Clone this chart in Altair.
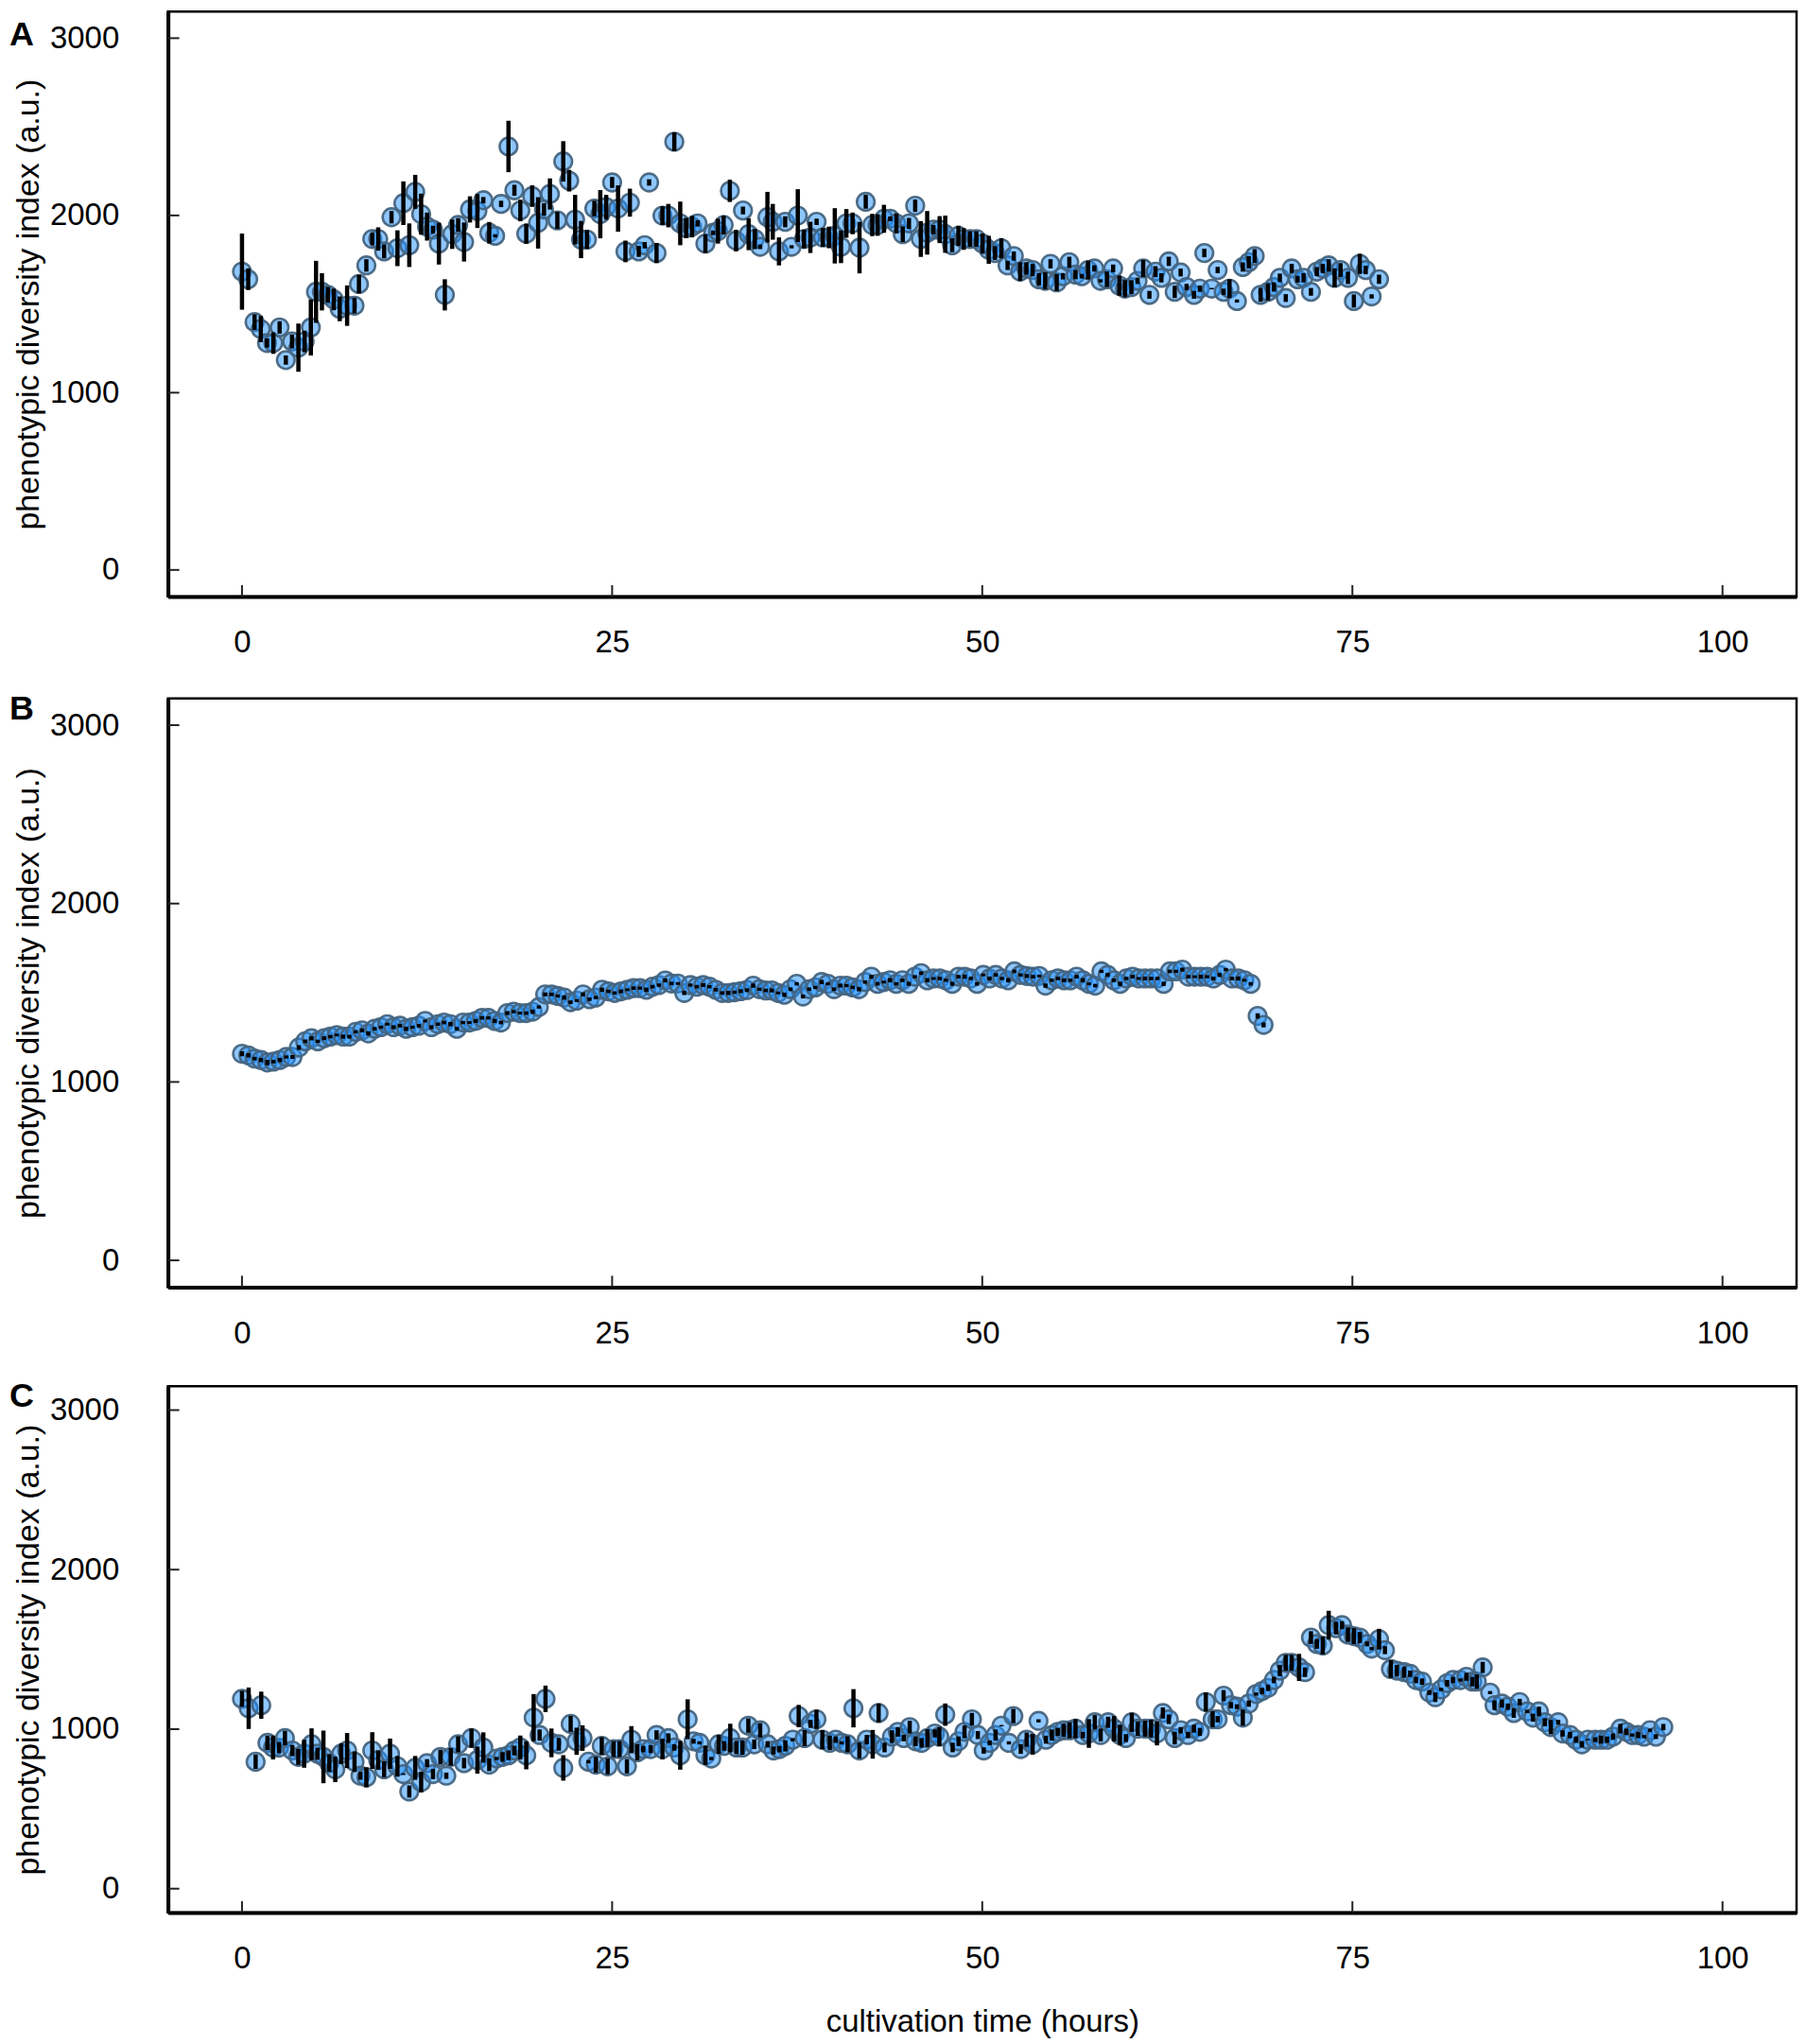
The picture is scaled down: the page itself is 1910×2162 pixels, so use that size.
import altair as alt
import pandas as pd

# ---------------- Panel A ----------------
A_TIME = [0.0, 0.42, 0.85, 1.27, 1.69, 2.12, 2.54, 2.96, 3.38, 3.81, 4.23, 4.65, 5.0, 5.4, 5.8,
          6.2, 6.6, 7.1, 7.6, 7.9, 8.4, 8.8, 9.2, 9.6, 10.1, 10.5, 10.9, 11.3, 11.7, 12.1,
          12.5, 12.9, 13.3, 13.7, 14.2, 14.6, 15.0, 15.4, 15.9, 16.3, 16.7, 17.1, 17.5, 18.0, 18.4,
          18.8, 19.2, 19.6, 20.0, 20.4, 20.8, 21.3, 21.7, 22.1, 22.5, 22.9, 23.3, 23.8, 24.2, 24.6,
          25.0, 25.4, 25.9, 26.2, 26.8, 27.2, 27.5, 28.0, 28.4, 28.8, 29.2, 29.6, 30.0,
          30.4,
          30.77, 31.30, 31.83, 32.15, 32.53, 32.95, 33.37, 33.84, 34.22, 34.64, 35.0, 35.49, 35.85,
          36.27, 36.69, 37.12, 37.54, 37.96, 38.39, 38.81, 39.23, 39.65, 40.04, 40.46, 40.82, 41.24,
          41.71, 42.13, 42.57, 42.93, 43.36, 43.78, 44.20, 44.63, 45.05, 45.47, 45.85, 46.28, 46.70,
          47.12, 47.50, 47.97, 48.39, 48.75, 49.17, 49.60, 50.02, 50.44, 50.86, 51.29, 51.71, 52.13,
          52.56, 52.98, 53.40, 53.83, 54.25, 54.61, 55.03, 55.45, 55.88, 56.30, 56.72, 57.15, 57.57,
          57.99, 58.42, 58.84, 59.26, 59.64, 60.07, 60.49, 60.87, 61.29,
          61.7, 62.1, 62.6, 63.0, 63.4, 63.8, 64.3, 64.7, 65.0, 65.5, 65.9, 66.3, 66.7, 67.2, 67.6,
          68.0, 68.4, 68.8, 69.3, 69.7, 70.1, 70.5, 70.9, 71.3, 71.7, 72.2, 72.6, 73.0, 73.4, 73.8,
          74.2, 74.7, 75.1, 75.5, 75.9, 76.3, 76.8]
A_VALUE = [1683, 1640, 1398, 1359, 1280, 1280, 1368, 1184, 1289, 1254, 1289, 1368, 1569, 1569, 1552,
           1526, 1473, 1491, 1491, 1613, 1718, 1867, 1867, 1797, 1990, 1815, 2069, 1832, 2133, 2007,
           1937, 1920, 1841, 1552, 1894, 1946, 1850, 2034, 2025, 2086, 1902, 1885, 2065, 2389, 2142,
           2028, 1897, 2109, 1958, 2034, 2121, 1972, 2305, 2196, 1976, 1864, 1864, 2039, 2007, 2046,
           2186, 2039, 1797, 2072, 1797, 1832, 2186, 1788, 1999, 1999, 2416, 1955, 1929,
           1937,
           1955, 1841, 1902, 1911, 1946, 2139, 1858, 2028, 1894, 1867, 1823, 1990, 1964, 1797, 1964,
           1823, 1999, 1867, 1876, 1964, 1876, 1876, 1885, 1823, 1955, 1955, 1818, 2077, 1946, 1946,
           1981, 1981, 1955, 1894, 1955, 2055, 1867, 1902, 1920, 1920, 1894, 1832, 1885, 1867, 1867,
           1867, 1841, 1806, 1788, 1815, 1718, 1771, 1683, 1701, 1692, 1640, 1631, 1727, 1622, 1657,
           1736, 1666, 1657, 1692, 1701, 1631, 1640, 1701, 1604, 1587, 1596, 1631, 1701, 1552,
           1683, 1648, 1741, 1569, 1678, 1596, 1552, 1587, 1788, 1587, 1692, 1569, 1587, 1517, 1709,
           1736, 1771, 1552, 1569, 1596, 1648, 1534, 1701, 1640, 1648, 1569, 1683, 1701, 1718, 1648,
           1692, 1648, 1517, 1727, 1692, 1543, 1640]
A_ERR = [215, 61, 44, 74, 26, 61, 35, 26, 39, 136, 61, 158, 175, 105, 44, 61, 70, 114, 44, 53,
         35, 35, 66, 39, 35, 101, 123, 123, 96, 116, 79, 22, 118, 88, 83, 39, 110, 74, 96, 18,
         61, 9, 18, 145, 31, 61, 57, 61, 145, 35, 88, 48, 114, 61, 140, 105, 53, 44, 136, 70,
         31, 131, 61, 79, 31, 18, 18, 57, 53, 66, 53, 123, 57,
         61,
         18, 53, 13, 70, 53, 63, 61, 22, 90, 57, 13, 143, 101, 79, 31, 9, 149, 53, 88, 18,
         53, 61, 156, 92, 81, 61, 145, 39, 63, 61, 79, 13, 57, 44, 31, 35, 101, 123, 26, 76,
         105, 39, 57, 61, 44, 44, 57, 79, 39, 57, 26, 26, 53, 35, 35, 35, 48, 26, 48, 18,
         31, 26, 13, 53, 18, 9, 44, 22, 57, 48, 39, 18, 48, 22,
         31, 26, 26, 35, 22, 18, 22, 18, 24, 4, 18, 18, 53, 9, 26, 35, 39, 39, 48, 26,
         24, 22, 26, 19, 26, 22, 26, 26, 35, 53, 39, 35, 37, 57, 24, 12, 26]

# ---------------- Panel B ----------------
B_TIME = [0.0, 0.43, 0.85, 1.28, 1.71, 2.13, 2.56, 2.99, 3.41, 3.84, 4.27, 4.69, 5.12, 5.55, 5.97,
          6.40, 6.83, 7.25, 7.68, 8.11, 8.53, 8.96, 9.39, 9.81, 10.24, 10.67, 11.09, 11.52, 11.95,
          12.37, 12.80, 13.23, 13.65, 14.08, 14.51, 14.93, 15.36, 15.79, 16.21, 16.64, 17.07, 17.49,
          17.92, 18.35, 18.77, 19.20, 19.63, 20.05, 20.48, 20.91, 21.33, 21.76, 22.19, 22.61, 23.04,
          23.47, 23.89, 24.32, 24.75, 25.17, 25.60, 26.03, 26.45, 26.88, 27.31, 27.73, 28.16, 28.59,
          29.01, 29.44, 29.87, 30.29, 30.72, 31.15, 31.57, 32.00,
          32.43, 32.85, 33.27, 33.69, 34.11, 34.53, 34.95, 35.37, 35.79, 36.21, 36.63, 37.05, 37.47,
          37.89, 38.31, 38.73, 39.15, 39.57, 39.99, 40.41, 40.83, 41.25, 41.67, 42.09, 42.51, 42.93,
          43.35, 43.77, 44.19, 44.61, 45.03, 45.45, 45.87, 46.29, 46.71, 47.13, 47.55, 47.97, 48.39,
          48.81, 49.23, 49.65, 50.07, 50.49, 50.91, 51.33, 51.75, 52.17, 52.59, 53.01, 53.43, 53.85,
          54.27, 54.69, 55.11, 55.53, 55.95, 56.37, 56.79, 57.21, 57.63, 58.05, 58.47, 58.89, 59.31,
          59.73, 60.15, 60.57, 60.99, 61.41, 61.83, 62.25, 62.67, 63.09, 63.51, 63.93, 64.35, 64.77,
          65.19, 65.61, 66.03, 66.45, 66.87, 67.29, 67.71, 68.13,
          68.6, 69.0]
B_VALUE = [1158, 1149, 1131, 1123, 1109, 1114, 1123, 1140, 1140, 1193, 1228, 1245, 1228, 1245, 1254,
           1263, 1254, 1254, 1281, 1289, 1272, 1298, 1307, 1324, 1307, 1315, 1298, 1307, 1315, 1342,
           1307, 1324, 1333, 1324, 1298, 1333, 1333, 1342, 1359, 1359, 1342, 1333, 1386, 1394, 1386,
           1386, 1394, 1420, 1491, 1491, 1482, 1473, 1447, 1456, 1491, 1464, 1473, 1517, 1508, 1499,
           1508, 1517, 1526, 1526, 1517, 1534, 1543, 1569, 1552, 1552, 1499, 1543, 1534, 1543, 1534,
           1517,
           1499, 1499, 1503, 1509, 1515, 1540, 1520, 1513, 1513, 1499, 1489, 1520, 1550, 1479, 1520,
           1530, 1560, 1550, 1520, 1540, 1540, 1530, 1520, 1560, 1590, 1550, 1560, 1570, 1550, 1570,
           1550, 1590, 1610, 1570, 1580, 1580, 1570, 1550, 1590, 1590, 1580, 1550, 1600, 1580, 1600,
           1580, 1570, 1620, 1600, 1594, 1590, 1594, 1540, 1570, 1580, 1570, 1570, 1590, 1570, 1550,
           1540, 1620, 1600, 1570, 1550, 1580, 1590, 1580, 1580, 1580, 1580, 1550, 1620, 1620, 1630,
           1590, 1590, 1590, 1590, 1580, 1600, 1630, 1580, 1580, 1570, 1550,
           1370, 1320]
B_ERR = [14, 12, 10, 12, 15, 10, 12, 9, 11, 13, 10, 12, 9, 11, 10, 8, 12, 10, 9, 11,
         12, 10, 9, 8, 11, 10, 12, 9, 10, 8, 11, 9, 10, 12, 10, 9, 8, 11, 10, 9,
         12, 10, 11, 9, 8, 10, 12, 9, 11, 10, 9, 12, 10, 8, 11, 10, 9, 12, 10, 9,
         11, 8, 10, 9, 12, 10, 9, 11, 10, 8, 12, 9, 10, 11, 9, 10,
         10, 12, 9, 11, 10, 12, 9, 10, 11, 8, 12, 10, 9, 11, 10, 9, 12, 8, 10, 11,
         9, 10, 12, 9, 11, 10, 8, 12, 9, 10, 11, 9, 10, 12, 8, 10, 9, 11, 10, 12,
         9, 10, 8, 11, 10, 9, 12, 10, 9, 11, 10, 8, 12, 9, 10, 11, 9, 10, 12, 8,
         10, 9, 11, 10, 12, 9, 10, 8, 11, 10, 9, 12, 10, 9, 11, 10, 8, 12, 9, 10,
         11, 9, 10, 12, 8, 10,
         15, 14]

# ---------------- Panel C ----------------
C_TIME = [0.0, 0.45, 0.92, 1.3, 1.72, 2.1, 2.5, 2.9, 3.4, 3.8, 4.2, 4.7, 5.1, 5.5, 5.9, 6.3, 6.7,
          7.1, 7.6, 8.0, 8.4, 8.8, 9.2, 9.6, 10.0, 10.5, 10.9, 11.3, 11.7, 12.1, 12.5, 12.9, 13.4,
          13.8, 14.1, 14.6, 15.0, 15.5, 15.9, 16.3, 16.7, 17.2, 17.6, 18.0, 18.4, 18.8, 19.2, 19.7,
          20.1, 20.5, 20.9, 21.4, 21.7, 22.2, 22.6, 23.0, 23.4, 23.9, 24.3, 24.7, 25.1, 25.5, 26.0,
          26.3, 26.7, 27.1, 27.6, 28.0, 28.4, 28.8, 29.2, 29.6, 30.1, 30.5, 30.9, 31.3, 31.7, 32.2,
          32.56, 32.98, 33.4, 33.8, 34.2, 34.6, 35.0, 35.5, 35.9, 36.3, 36.7, 37.2, 37.6, 38.0, 38.4,
          38.8, 39.2, 39.7, 40.1, 40.5, 40.9, 41.3, 41.7, 42.2, 42.6, 43.0, 43.4, 43.9, 44.3, 44.7,
          45.1, 45.5, 45.9, 46.3, 46.8, 47.1, 47.5, 48.0, 48.4, 48.8, 49.3, 49.7, 50.1, 50.5, 50.9,
          51.3, 51.8, 52.1, 52.6, 53.0, 53.4, 53.8, 54.3, 54.7, 55.1, 55.5, 55.9, 56.3, 56.8, 57.2,
          57.6, 58.0, 58.5, 58.9, 59.3, 59.7, 60.1, 60.5, 61.0, 61.4, 61.8, 62.2, 62.6, 63.0, 63.4,
          63.9, 64.3, 64.7, 65.1,
          65.56, 65.9, 66.3, 66.8, 67.2, 67.6, 68.0, 68.5, 68.9, 69.3, 69.7, 70.1, 70.5, 70.9, 71.4,
          71.8, 72.2, 72.6, 73.0, 73.4, 73.9, 74.3, 74.7, 75.1, 75.5, 76.0, 76.3, 76.8, 77.2, 77.6,
          78.0, 78.5, 78.9, 79.3, 79.7, 80.2, 80.6, 81.0, 81.4, 81.8, 82.3, 82.7, 83.1, 83.4, 83.8,
          84.3, 84.6, 85.1, 85.5, 85.9, 86.3, 86.8, 87.2, 87.6, 88.0, 88.4, 88.9, 89.2, 89.7, 90.1,
          90.5, 90.9, 91.4, 91.8, 92.2, 92.6, 93.1, 93.5, 93.9, 94.3, 94.7, 95.1, 95.5, 96.0]
C_VALUE = [1190, 1131, 796, 1150, 914, 885, 884, 944, 866, 826, 846, 905, 846, 826, 787, 748, 846,
           866, 796, 708, 698, 866, 806, 748, 846, 767, 718, 609, 757, 668, 787, 718, 826, 708, 826,
           905, 787, 944, 806, 885, 777, 816, 826, 836, 866, 885, 836, 1072, 963, 1190, 914, 905,
           757, 1033, 924, 944, 796, 777, 895, 767, 875, 875, 767, 934, 855, 875, 875, 963, 875, 944,
           885, 836, 1062, 924, 914, 836, 816, 905,
           895, 944, 885, 885, 1022, 905, 993, 905, 866, 875, 895, 934, 1082, 944, 1033, 1062, 934,
           914, 934, 914, 905, 1131, 866, 934, 905, 1101, 885, 953, 983, 944, 1013, 924, 914, 944,
           973, 953, 1091, 885, 924, 983, 1062, 963, 866, 914, 963, 1022, 914, 1082, 875, 934, 905,
           1052, 934, 963, 983, 993, 993, 1003, 963, 973, 1043, 963, 1043, 1003, 963, 944, 1043,
           1003, 1003, 1003, 973, 1101, 1062, 944, 993, 963, 1003, 983, 1170,
           1062, 1062, 1210, 1150, 1141, 1072, 1160, 1220, 1239, 1259, 1308, 1367, 1416, 1416, 1387,
           1357, 1574, 1534, 1524, 1652, 1633, 1652, 1593, 1583, 1574, 1534, 1505, 1564, 1495, 1377,
           1367, 1357, 1347, 1308, 1298, 1229, 1200, 1249, 1288, 1308, 1308, 1328, 1298, 1298, 1387,
           1229, 1150, 1160, 1141, 1101, 1170, 1111, 1072, 1111, 1043, 1013, 1043, 973, 963, 934,
           905, 934, 934, 934, 934, 953, 1003, 983, 963, 963, 953, 993, 953, 1013]
C_ERR = [50, 130, 45, 85, 45, 75, 35, 45, 35, 50, 88, 100, 38, 165, 55, 80, 65, 110, 65, 25,
         63, 115, 60, 50, 95, 65, 5, 38, 75, 65, 25, 32, 45, 20, 55, 50, 33, 60, 85, 95,
         40, 10, 30, 30, 30, 75, 88, 148, 35, 83, 90, 40, 80, 50, 85, 80, 10, 50, 55, 50,
         50, 50, 45, 85, 50, 20, 25, 30, 65, 30, 20, 90, 125, 15, 10, 60, 10, 60,
         30, 90, 40, 45, 45, 30, 45, 20, 25, 20, 35, 10, 70, 50, 25, 60, 60, 45, 20, 10,
         50, 120, 50, 30, 90, 60, 30, 40, 30, 20, 40, 30, 30, 55, 25, 60, 70, 30, 30, 40,
         40, 25, 20, 15, 35, 4, 10, 45, 30, 45, 65, 10, 25, 35, 25, 40, 50, 60, 20, 90,
         45, 40, 35, 80, 65, 25, 60, 45, 50, 55, 75, 35, 30, 40, 20, 20, 25, 25, 60,
         50, 20, 35, 20, 15, 50, 20, 10, 20, 20, 20, 35, 50, 50, 85, 30, 40, 30, 55, 90,
         40, 25, 45, 50, 35, 15, 10, 65, 25, 55, 35, 35, 20, 20, 20, 15, 30, 10, 20, 20,
         10, 25, 30, 45, 35, 10, 30, 25, 20, 30, 20, 10, 25, 30, 25, 45, 15, 20, 20, 20,
         20, 4, 15, 25, 20, 20, 30, 20, 10, 20, 10, 10, 15, 20]

X_TICKS = [0, 25, 50, 75, 100]
Y_TICKS = [0, 1000, 2000, 3000]
X_DOMAIN = [-5, 105]
Y_DOMAIN = [-150, 3150]

FONT = "Liberation Sans"
W = 1726


def panel(letter, letter_y, times, values, errs, height, xtitle):
    n = min(len(times), len(values), len(errs))
    df = pd.DataFrame({
        "t": times[:n],
        "v": values[:n],
        "lo": [values[i] - errs[i] for i in range(n)],
        "hi": [values[i] + errs[i] for i in range(n)],
    })
    xs = alt.Scale(domain=X_DOMAIN, nice=False, zero=False)
    ys = alt.Scale(domain=Y_DOMAIN, nice=False, zero=False)
    xkw = dict(values=X_TICKS, format="d", ticks=False, tickSize=0, grid=False,
               domainWidth=4, domainColor="black", labelFontSize=33, labelPadding=33,
               labelFlush=False, labelColor="black", labelFont=FONT)
    if xtitle:
        xaxis = alt.Axis(title=xtitle, titleFontSize=33, titlePadding=34, titleFont=FONT,
                         titleFontWeight="normal", titleColor="black", **xkw)
    else:
        xaxis = alt.Axis(title=None, **xkw)
    yaxis = alt.Axis(values=Y_TICKS, format="d", ticks=False, tickSize=0, grid=False,
                     domainWidth=4, domainColor="black", labelFontSize=33, labelPadding=52,
                     labelFlush=False, labelColor="black", labelFont=FONT,
                     title="phenotypic diversity index (a.u.)", titleFontSize=34,
                     titlePadding=5, titleFont=FONT, titleFontWeight="normal",
                     titleColor="black")
    X = alt.X("t:Q", scale=xs, axis=xaxis)
    Y = alt.Y("v:Q", scale=ys, axis=yaxis)

    pts = alt.Chart(df).mark_circle(
        size=350, fill="#1e90ff", fillOpacity=0.5, stroke="#44647f",
        strokeWidth=2.6, strokeOpacity=0.95, opacity=1
    ).encode(x=X, y=Y)
    bars = alt.Chart(df).mark_rule(color="black", strokeWidth=4.5).encode(
        x=X, y=alt.Y("lo:Q", scale=ys, axis=yaxis), y2="hi:Q")
    ytick = alt.Chart(pd.DataFrame({"v": Y_TICKS})).mark_rule(
        color="#222222", strokeWidth=2).encode(y=Y, x=alt.value(0), x2=alt.value(12))
    xtick = alt.Chart(pd.DataFrame({"t": X_TICKS})).mark_rule(
        color="#222222", strokeWidth=2).encode(x=X, y=alt.value(height), y2=alt.value(height - 12))
    lab = alt.Chart(pd.DataFrame({"lab": [letter]})).mark_text(
        align="left", baseline="alphabetic", fontSize=36, fontWeight="bold",
        font=FONT, color="black").encode(text="lab:N", x=alt.value(-168), y=alt.value(letter_y))
    return alt.layer(pts, bars, ytick, xtick, lab).properties(width=W, height=height)


pA = panel("A", 36, A_TIME, A_VALUE, A_ERR, 620, None)
pB = panel("B", 22, B_TIME, B_VALUE, B_ERR, 624, None)
pC = panel("C", 22, C_TIME, C_VALUE, C_ERR, 558, "cultivation time (hours)")

chart = alt.vconcat(pA, alt.vconcat(pB, pC, spacing=28), spacing=31).properties(
    padding={"left": 0, "top": 0, "right": 0, "bottom": 0}
).configure_view(stroke="black", strokeWidth=2.5)

chart.save("out.html", embed_options={"renderer": "svg", "actions": False})
